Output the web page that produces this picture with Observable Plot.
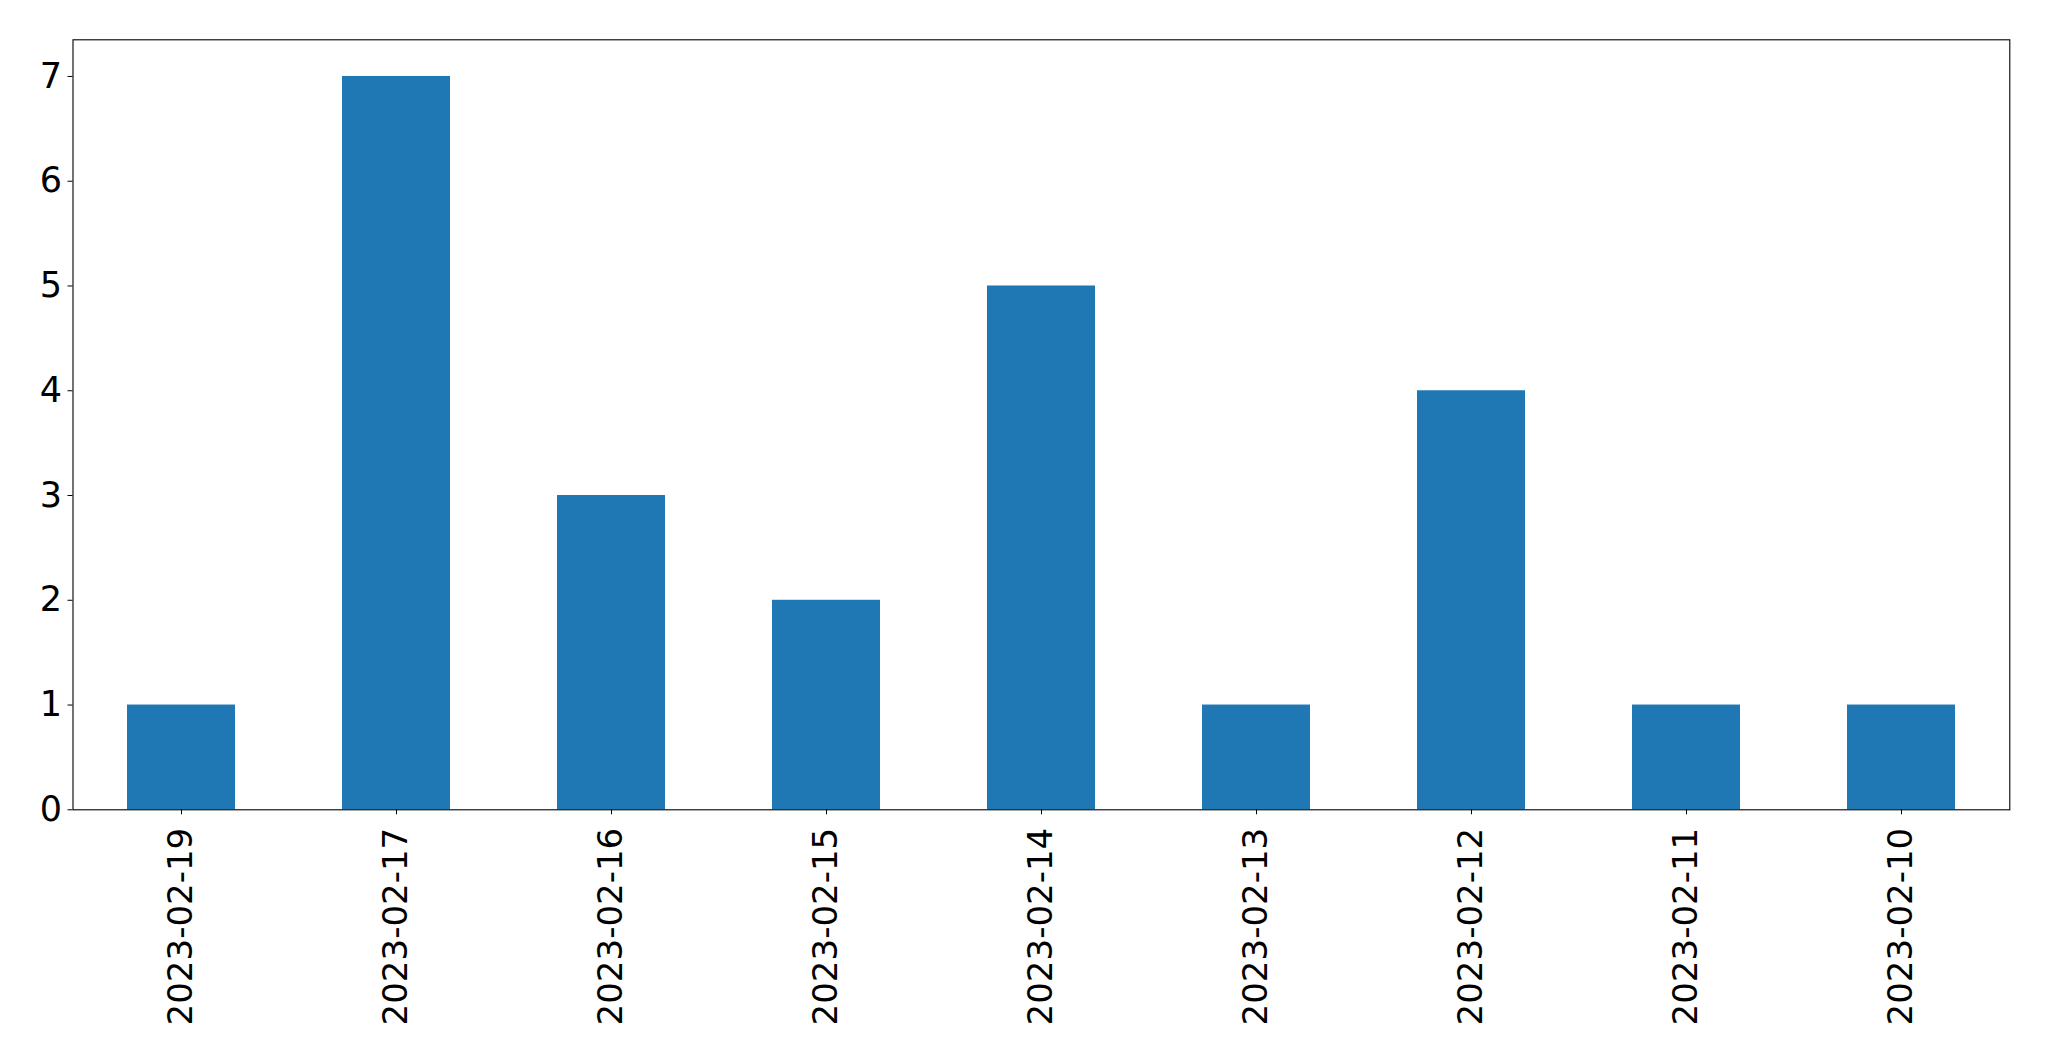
<!DOCTYPE html>
<html>
<head>
<meta charset="utf-8">
<script src="https://cdn.jsdelivr.net/npm/d3@7"></script>
<script src="https://cdn.jsdelivr.net/npm/@observablehq/plot@0.6"></script>
<style>
  html, body { margin: 0; padding: 0; background: #fff; }
  svg { display: block; }
</style>
</head>
<body>
<div id="chart"></div>
<script>
const dates = ["2023-02-19","2023-02-17","2023-02-16","2023-02-15","2023-02-14","2023-02-13","2023-02-12","2023-02-11","2023-02-10"];
const counts = [1, 7, 3, 2, 5, 1, 4, 1, 1];
const yTicks = [0, 1, 2, 3, 4, 5, 6, 7];

const data = dates.map((d, i) => ({date: d, count: counts[i]}));

const chart = Plot.plot({
  width: 2049,
  height: 1061,
  marginLeft: 72.5,
  marginRight: 39.7,
  marginTop: 39.3,
  marginBottom: 251.7,
  style: {fontFamily: "DejaVu Sans", background: "#fff", color: "#000"},
  x: {type: "band", domain: dates, paddingInner: 0.5, paddingOuter: 0.25},
  y: {domain: [0, 7.35]},
  marks: [
    Plot.barY(data, {x: "date", y: "count", fill: "#1f77b4"}),
    Plot.axisY({ticks: yTicks, tickSize: 5, tickPadding: 6, fontSize: 35, label: null, tickFormat: d => String(d), stroke: "#000"}),
    Plot.axisX({tickSize: 5, tickPadding: 13, tickRotate: -90, fontSize: 34, label: null, stroke: "#000"}),
    Plot.frame({stroke: "#000", strokeWidth: 1.1})
  ]
});
document.getElementById("chart").appendChild(chart);
</script>
</body>
</html>
